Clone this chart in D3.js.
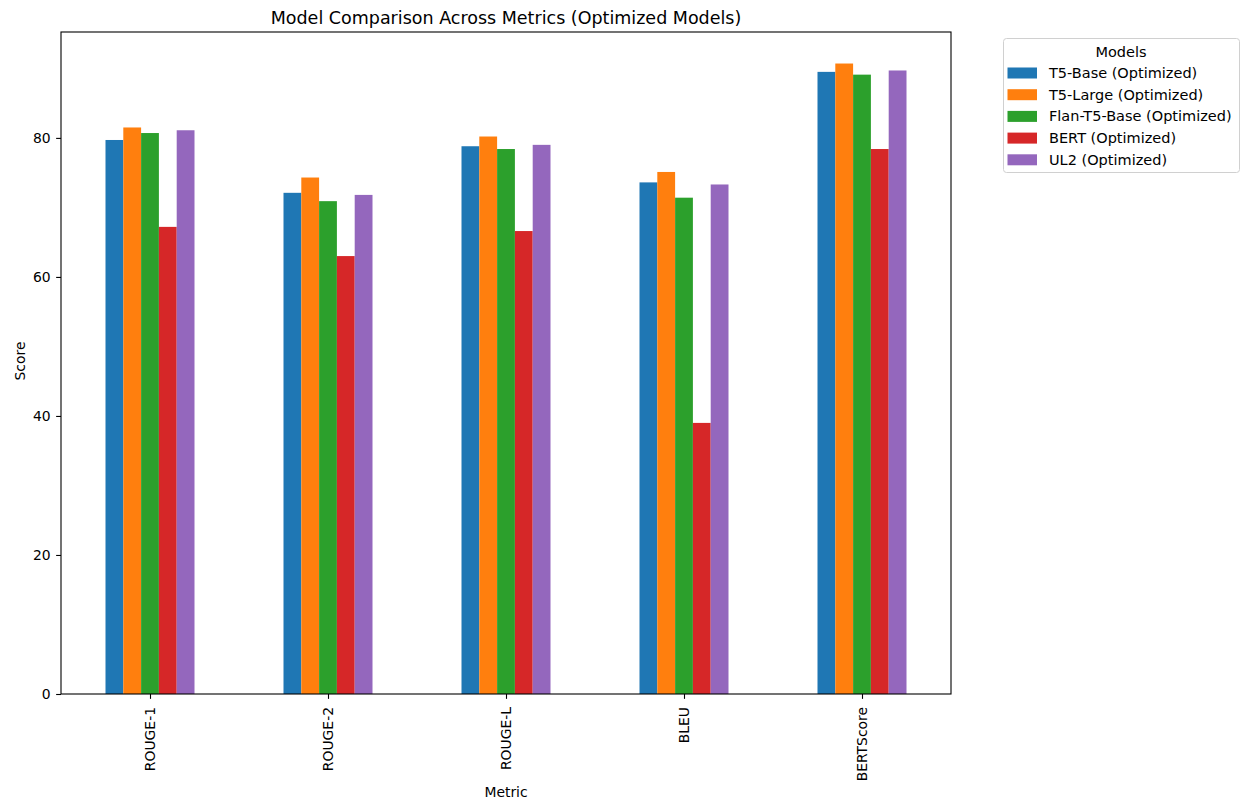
<!DOCTYPE html>
<html><head><meta charset="utf-8">
<script src="https://cdn.jsdelivr.net/npm/d3@7"></script>
<style>body{margin:0;background:#fff;} text{font-family:"DejaVu Sans",sans-serif;fill:#000;}</style>
</head><body>
<svg id="chart" width="1244" height="804"></svg>
<script>
const metrics = ["ROUGE-1", "ROUGE-2", "ROUGE-L", "BLEU", "BERTScore"];
const models = ["T5-Base (Optimized)", "T5-Large (Optimized)", "Flan-T5-Base (Optimized)", "BERT (Optimized)", "UL2 (Optimized)"];
const t5Base = [79.7, 72.1, 78.8, 73.6, 89.5];
const t5Large = [81.5, 74.3, 80.2, 75.1, 90.7];
const flanT5Base = [80.7, 70.9, 78.4, 71.4, 89.1];
const bert = [67.2, 63.0, 66.6, 39.0, 78.4];
const ul2 = [81.1, 71.8, 79.0, 73.3, 89.7];
const seriesValues = [t5Base, t5Large, flanT5Base, bert, ul2];
const colors = ["#1f77b4", "#ff7f0e", "#2ca02c", "#d62728", "#9467bd"];
const yTicks = [0, 20, 40, 60, 80];

const svg = d3.select("#chart");
const L = 61, R = 951, T = 32, B = 694;
const maxV = d3.max(seriesValues.flat());
const y = d3.scaleLinear().domain([0, maxV * 1.05]).range([B, T]);
const x = d3.scaleLinear().domain([-0.5, metrics.length - 0.5]).range([L, R]);
const barW = 0.5 / models.length;

seriesValues.forEach((vals, si) => {
  svg.append("g").selectAll("rect").data(vals).join("rect")
    .attr("x", (d, i) => x(i - 0.25 + si * barW))
    .attr("width", x(barW) - x(0))
    .attr("y", d => y(d))
    .attr("height", d => y(0) - y(d))
    .attr("fill", colors[si]);
});

// axes
const yAxis = d3.axisLeft(y).tickValues(yTicks).tickSize(4.86).tickPadding(5.5).tickFormat(d3.format("d"));
const gy = svg.append("g").attr("transform", `translate(${L},0)`).call(yAxis);
gy.select(".domain").remove();
gy.selectAll("text").style("font-size", "13.9px").style("font-family", "DejaVu Sans");
gy.selectAll("line").attr("stroke", "#000").attr("stroke-width", 1.1);

const xAxis = d3.axisBottom(x).tickValues(d3.range(metrics.length)).tickFormat(i => metrics[i]).tickSize(4.86);
const gx = svg.append("g").attr("transform", `translate(0,${B})`).call(xAxis);
gx.select(".domain").remove();
gx.selectAll("line").attr("stroke", "#000").attr("stroke-width", 1.1);
gx.selectAll("text").style("font-size", "13.9px").style("font-family", "DejaVu Sans")
  .attr("transform", "rotate(-90)")
  .attr("text-anchor", "end")
  .attr("x", -13).attr("y", 0).attr("dy", "0.35em");

svg.append("rect").attr("x", L).attr("y", T).attr("width", R - L).attr("height", B - T)
  .attr("fill", "none").attr("stroke", "#000").attr("stroke-width", 1.1);

svg.append("text").attr("x", (L + R) / 2).attr("y", 24).attr("text-anchor", "middle")
  .style("font-size", "17.5px").text("Model Comparison Across Metrics (Optimized Models)");
svg.append("text").attr("x", (L + R) / 2).attr("y", 797).attr("text-anchor", "middle")
  .style("font-size", "13.9px").text("Metric");
svg.append("text").attr("transform", `translate(25,${(T + B) / 2 - 2}) rotate(-90)`).attr("text-anchor", "middle")
  .style("font-size", "13.9px").text("Score");

// legend
const lg = svg.append("g");
lg.append("rect").attr("x", 1003.5).attr("y", 38.5).attr("width", 236).attr("height", 134).attr("rx", 3)
  .attr("fill", "#fff").attr("stroke", "#d0d0d0").attr("stroke-width", 1);
lg.append("text").attr("x", 1121).attr("y", 56.5).attr("text-anchor", "middle").style("font-size", "14.5px").text("Models");
models.forEach((m, i) => {
  const cy = 73 + i * 21.7;
  lg.append("rect").attr("x", 1007.5).attr("y", cy - 5.5).attr("width", 29.5).attr("height", 11).attr("fill", colors[i]);
  lg.append("text").attr("x", 1049).attr("y", cy).attr("dy", "0.35em").style("font-size", "14.5px").text(m);
});
</script>
</body></html>
